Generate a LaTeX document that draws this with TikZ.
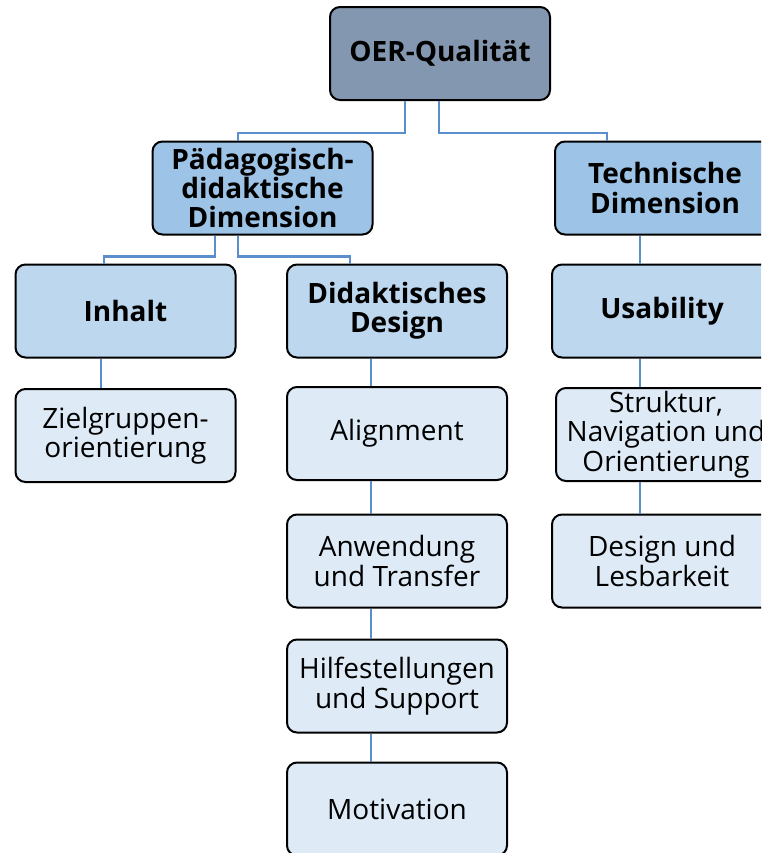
\documentclass[tikz,border=0pt]{standalone}
\usepackage{fontspec}
\setmainfont{Open Sans}
\usetikzlibrary{calc}

\definecolor{oergrey}{HTML}{8497B0}
\definecolor{dimblue}{HTML}{9DC3E6}
\definecolor{subblue}{HTML}{BDD7EE}
\definecolor{leafblue}{HTML}{DEEBF7}
\definecolor{linkblue}{HTML}{5B8ECC}

\begin{document}
\begin{tikzpicture}[x=0.75pt, y=-0.75pt]
  \tikzstyle{box} = [draw=black, line width=1.5pt, rounded corners=7.5pt,
                     minimum width=165pt, minimum height=69.75pt, align=center,
                     inner sep=1pt, font=\fontsize{21}{22}\selectfont]
  \tikzstyle{topbox} = [box, fill=oergrey, font=\fontsize{21}{22}\selectfont\bfseries]
  \tikzstyle{dimbox} = [box, fill=dimblue, font=\fontsize{21}{22}\selectfont\bfseries]
  \tikzstyle{subbox} = [box, fill=subblue, font=\fontsize{21}{22}\selectfont\bfseries]
  \tikzstyle{leafbox} = [box, fill=leafblue]
  \tikzstyle{conn} = [draw=linkblue, line width=2pt]

  \clip (0,0) rectangle (761,853);

  % Wurzel
  \node[topbox] (oer) at (440,53.5) {OER-Qualität};

  % Dimensionen
  \node[dimbox] (paed) at (262.5,188) {Pädagogisch-\\didaktische\\Dimension};
  \node[dimbox] (tech) at (665,188)   {Technische\\Dimension};

  % Unterbereiche
  \node[subbox] (inhalt) at (125.5,311) {Inhalt};
  \node[subbox] (did) at (397,311)      {Didaktisches\\Design};
  \node[subbox] (usab) at (662,311)     {Usability};

  % Kriterien
  \node[leafbox] (ziel) at (125.5,435.5) {Zielgruppen-\\orientierung};
  \node[leafbox] (align) at (397,433.5)  {Alignment};
  \node[leafbox] (anw) at (397,561)      {Anwendung\\und Transfer};
  \node[leafbox] (hilfe) at (397,686)    {Hilfestellungen\\und Support};
  \node[leafbox] (motiv) at (397,809)    {Motivation};
  \node[leafbox] (strukt) at (666,434.5) {Struktur,\\Navigation und\\Orientierung};
  \node[leafbox] (lesb) at (662,561)     {Design und\\Lesbarkeit};

  % Verbindungen
  \draw[conn] ($(oer.south)+(-35,0)$) -- ++(0,32) -| ($(paed.north)+(-24.5,0)$);
  \draw[conn] ($(oer.south)+(-1,0)$) -- ++(0,32) -| ($(tech.north)+(-58,0)$);
  \draw[conn] ($(paed.south)+(-47.5,0)$) -- ++(0,21) -| ($(inhalt.north)+(-21.5,0)$);
  \draw[conn] ($(paed.south)+(-24.5,0)$) -- ++(0,21) -| ($(did.north)+(-47,0)$);
  \draw[conn] ($(tech.south)+(-25,0)$) -- ($(usab.north)+(-22,0)$);
  \draw[conn] ($(inhalt.south)+(-24.5,0)$) -- ($(ziel.north)+(-24.5,0)$);
  \draw[conn] ($(did.south)+(-26,0)$) -- ($(align.north)+(-26,0)$);
  \draw[conn] ($(align.south)+(-26,0)$) -- ($(anw.north)+(-26,0)$);
  \draw[conn] ($(anw.south)+(-26,0)$) -- ($(hilfe.north)+(-26,0)$);
  \draw[conn] ($(hilfe.south)+(-26,0)$) -- ($(motiv.north)+(-26,0)$);
  \draw[conn] ($(usab.south)+(-22,0)$) -- ($(strukt.north)+(-26,0)$);
  \draw[conn] ($(strukt.south)+(-26,0)$) -- ($(lesb.north)+(-22,0)$);
\end{tikzpicture}
\end{document}
